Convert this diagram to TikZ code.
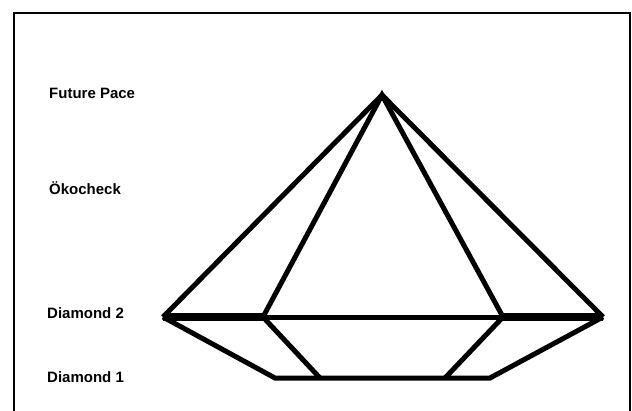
\documentclass[tikz,border=0pt]{standalone}
\usepackage{fontspec}
\setmainfont{Liberation Sans}
\usetikzlibrary{positioning}

\begin{document}
\begin{tikzpicture}[
    x=1pt, y=-1pt,
    edge/.style={line width=5pt, line join=miter, line cap=butt},
    girdle/.style={line width=7.5pt},
    lbl/.style={anchor=west, inner sep=0pt, font=\bfseries\fontsize{15}{17}\selectfont},
]
\useasboundingbox (0,0) rectangle (632,410);

% rahmen
\draw[line width=2pt] (14,412) -- (14,13) -- (630,13) -- (630,412);

% ================= ecken =================
\coordinate (apex) at (382,95);
\coordinate (gl)   at (163,317);
\coordinate (gr)   at (603,317);
\coordinate (gil)  at (263,317);
\coordinate (gir)  at (503,317);
\coordinate (bl)   at (275,378);
\coordinate (br)   at (490,378);
\coordinate (bil)  at (320,378);
\coordinate (bir)  at (445,378);

% krone
\draw[edge] (gl) -- (apex) -- (gr);
\draw[edge] (gil) -- (apex) -- (gir);

% rundiste
\draw[girdle] (gl) -- (gil);
\draw[girdle] (gir) -- (gr);
\draw[edge] (gil) -- (gir);

% pavillon
\draw[edge] (gl) -- (bl) -- (br) -- (gr);
\draw[edge] (gil) -- (bil);
\draw[edge] (gir) -- (bir);

% ================= beschriftung =================
\node[lbl] (pace)  at (49,93)  {Future Pace};
\node[lbl] (oeko)  at (49,188) {Ökocheck};
\node[lbl] (dia2)  at (47,313) {Diamond 2};
\node[lbl] (dia1)  at (47,377) {Diamond 1};

\end{tikzpicture}
\end{document}
